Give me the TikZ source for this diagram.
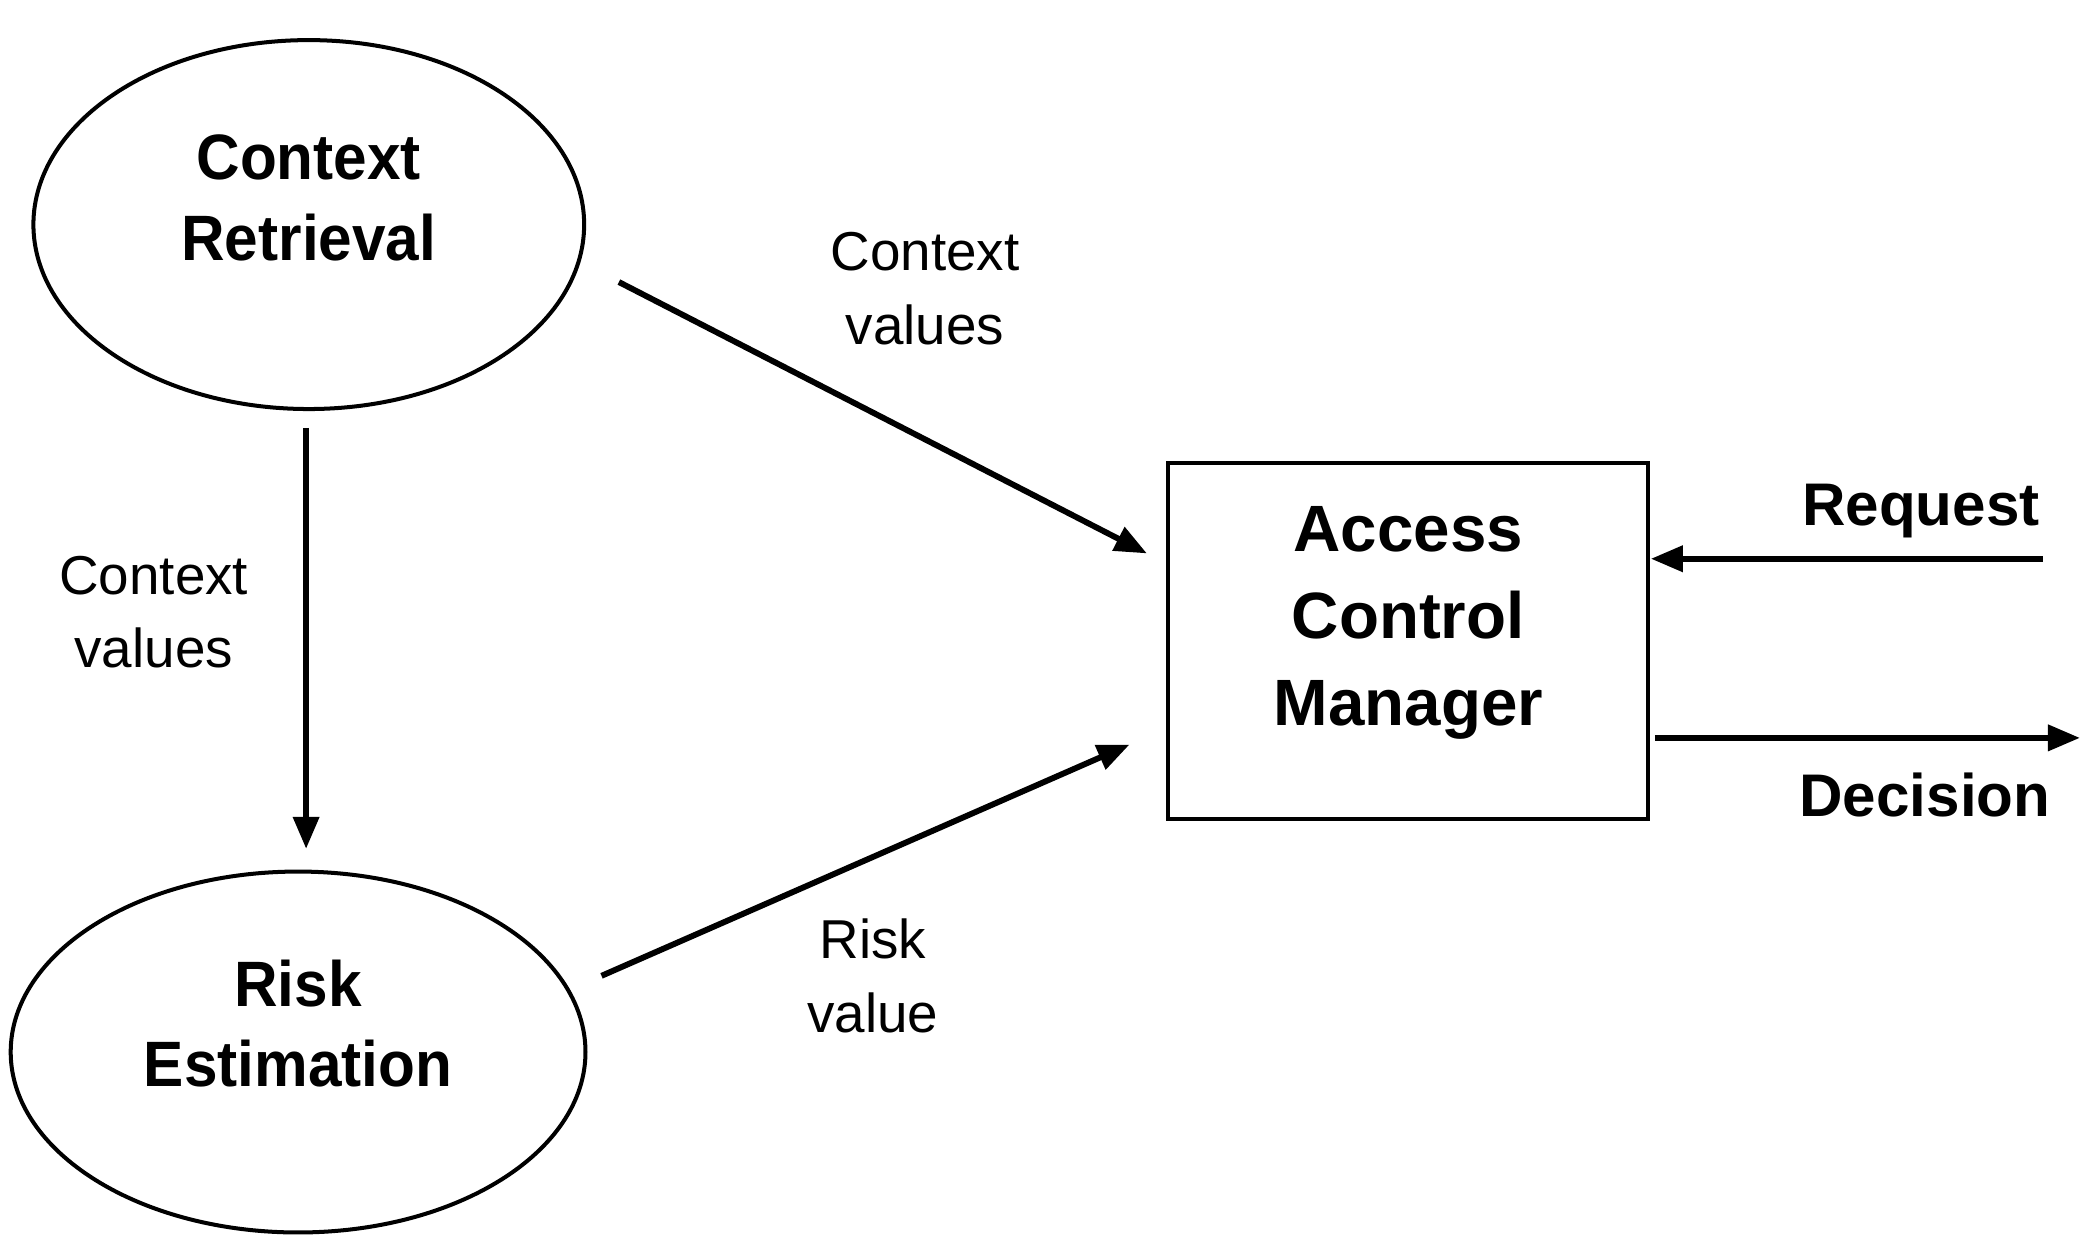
\documentclass[tikz,border=0pt]{standalone}
\usepackage{fontspec}
\setmainfont{Liberation Sans}
\newfontfamily\narrowbold[FakeStretch=0.94]{Liberation Sans Bold}
\usetikzlibrary{shapes.geometric,arrows.meta}
\tikzset{
  ell/.style={draw=black, line width=1.5pt, ellipse, inner sep=0pt},
  boxnode/.style={draw=black, line width=1.5pt, rectangle, inner sep=0pt},
  btext/.style={align=center, font=\narrowbold\fontsize{24}{30}\selectfont, inner sep=0pt},
  boxtext/.style={align=center, font=\bfseries\fontsize{24.5}{32.5}\selectfont, inner sep=0pt},
  iotext/.style={align=center, font=\bfseries\fontsize{22.5}{27}\selectfont, inner sep=0pt},
  lbl/.style={align=center, font=\fontsize{20.5}{27.5}\selectfont, inner sep=0pt},
  flow/.style={line width=2.2pt, -{Triangle[length=12pt,width=9.5pt]}}
}
\begin{document}
\begin{tikzpicture}[x=0.5pt,y=-0.5pt]
\useasboundingbox (0,0) rectangle (1568,936);
% nodes
\node[ell, minimum width=206pt, minimum height=138pt] (cr) at (231,168) {};
\node[btext] (crt) at (231,148) {Context\\Retrieval};
\node[ell, minimum width=215pt, minimum height=135pt] (re) at (223,787) {};
\node[btext] (ret) at (223,766) {Risk\\Estimation};
\node[boxnode, minimum width=179.5pt, minimum height=133.5pt] (acm) at (1053.5,479.5) {};
\node[boxtext] (acmt) at (1053.5,466) {Access\\Control\\Manager};
% free ends
\coordinate (a1s) at (463,211);
\coordinate (a1e) at (858,414);
\coordinate (vs) at (229,320);
\coordinate (ve) at (229,635);
\coordinate (rs) at (450,730);
\coordinate (rend) at (845,557);
\coordinate (reqs) at (1528,418);
\coordinate (reqe) at (1235,418);
\coordinate (decs) at (1238,552);
\coordinate (dece) at (1556,552);
% connectors
\draw[flow] (a1s) -- (a1e);
\draw[flow] (vs) -- (ve);
\draw[flow] (rs) -- (rend);
\draw[flow] (reqs) -- (reqe);
\draw[flow] (decs) -- (dece);
% labels
\node[lbl] (l1) at (692,216) {Context\\values};
\node[lbl] (l2) at (115,458) {Context\\values};
\node[lbl] (l3) at (653,730) {Risk\\value};
\node[iotext] (req) at (1437,382) {Request};
\node[iotext] (dec) at (1440,595) {Decision};
\end{tikzpicture}
\end{document}
